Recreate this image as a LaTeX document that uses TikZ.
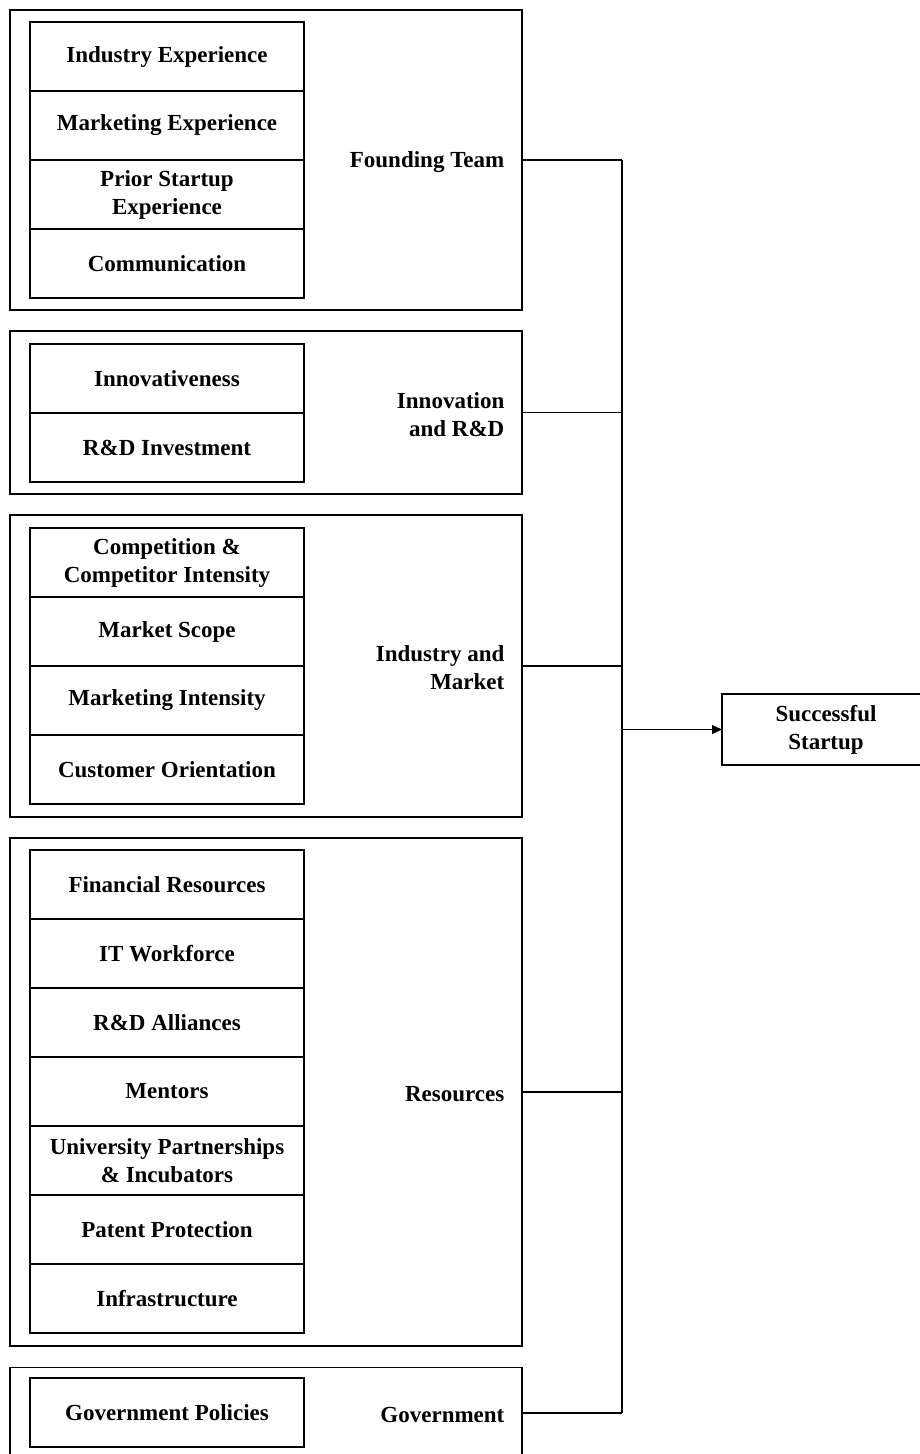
\documentclass[tikz,border=0pt]{standalone}
\usepackage{fontspec}
\setmainfont{Liberation Serif}
\usetikzlibrary{arrows.meta}
\begin{document}
\begin{tikzpicture}[x=1pt,y=-1pt,
  line width=1.3pt,
  every node/.style={font=\bfseries\fontsize{23}{28}\selectfont},
  cell/.style={draw, rectangle, inner sep=0pt, outer sep=0pt,
    minimum width=274pt, minimum height=69pt, align=center},
  group/.style={draw, rectangle, inner sep=0pt, outer sep=0pt,
    minimum width=512pt},
  glabel/.style={anchor=east, align=right, inner sep=0pt, yshift=-2pt},
  link/.style={line width=1.3pt},
  result/.style={draw, rectangle, inner sep=0pt, outer sep=0pt,
    minimum width=208pt, minimum height=71pt, align=center}]
\clip (0,0) rectangle (920,1454);
\useasboundingbox (0,0) rectangle (920,1454);

% group frames
\node[group, minimum height=300pt] (g1) at (266,160) {};
\node[group, minimum height=163pt] (g2) at (266,412.5) {};
\node[group, minimum height=302pt] (g3) at (266,666) {};
\node[group, minimum height=508pt] (g4) at (266,1092) {};
\node[group, minimum height=91pt]  (g5) at (266,1413) {};

% founding team factors
\node[cell] (c11) at (167,56.5)  {Industry Experience};
\node[cell] (c12) at (167,125.5) {Marketing Experience};
\node[cell] (c13) at (167,194.5) {Prior Startup\\Experience};
\node[cell] (c14) at (167,263.5) {Communication};

% innovation factors
\node[cell] (c21) at (167,378.5) {Innovativeness};
\node[cell] (c22) at (167,447.5) {R\&D Investment};

% industry and market factors
\node[cell] (c31) at (167,562.5) {Competition \&\\Competitor Intensity};
\node[cell] (c32) at (167,631.5) {Market Scope};
\node[cell] (c33) at (167,700.5) {Marketing Intensity};
\node[cell] (c34) at (167,769.5) {Customer Orientation};

% resource factors
\node[cell] (c41) at (167,884.5)  {Financial Resources};
\node[cell] (c42) at (167,953.5)  {IT Workforce};
\node[cell] (c43) at (167,1022.5) {R\&D Alliances};
\node[cell] (c44) at (167,1091.5) {Mentors};
\node[cell] (c45) at (167,1160.5) {University Partnerships\\\& Incubators};
\node[cell] (c46) at (167,1229.5) {Patent Protection};
\node[cell] (c47) at (167,1298.5) {Infrastructure};

% government factor
\node[cell] (c51) at (167,1412.5) {Government Policies};

% group labels
\node[glabel] (l1) at ([xshift=-17pt]g1.east) {Founding Team};
\node[glabel] (l2) at ([xshift=-17pt]g2.east) {Innovation\\and R\&D};
\node[glabel] (l3) at ([xshift=-17pt]g3.east) {Industry and\\Market};
\node[glabel] (l4) at ([xshift=-17pt]g4.east) {Resources};
\node[glabel] (l5) at ([xshift=-17pt]g5.east) {Government};

% outcome
\node[result] (out) at (826,729.5) {Successful\\Startup};

% collecting bus
\coordinate (bus) at (622,0);
\foreach \g in {g1,g2,g3,g4,g5}
  \draw[link] (\g.east) -- (\g.east -| bus);
\draw[link] (g1.east -| bus) -- (g5.east -| bus);
\draw[link, -{Triangle[length=10pt,width=9pt]}] (out.west -| bus) -- (out.west);
\end{tikzpicture}
\end{document}
